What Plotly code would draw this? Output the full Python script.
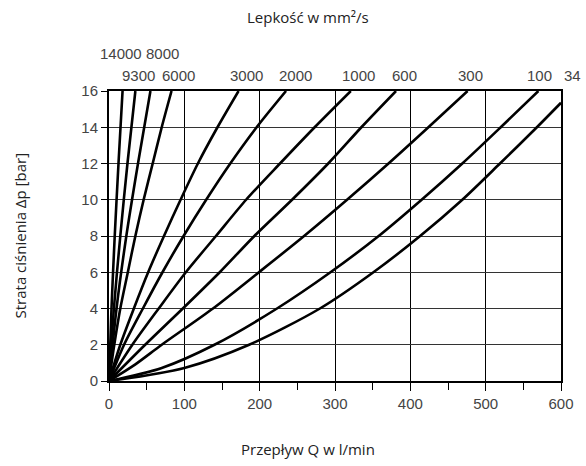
import plotly.graph_objs as go

# Viscosity of each curve in mm2/s
viscosity = ["14000", "9300", "8000", "6000", "3000", "2000", "1000", "600", "300", "100", "34"]

# Flow Q [l/min] and pressure loss dp [bar], one list pair per curve
q_14000 = [0, 3.3, 7.6, 12.6, 18]
dp_14000 = [0, 4, 8, 12, 16]
q_9300 = [0, 6.5, 15, 24.5, 35]
dp_9300 = [0, 4, 8, 12, 16]
q_8000 = [0, 10, 23, 38.5, 55]
dp_8000 = [0, 4, 8, 12, 16]
q_6000 = [0, 7, 15, 25, 35, 46, 58, 70, 83]
dp_6000 = [0, 2, 4, 6, 8, 10, 12, 14, 16]
q_3000 = [0, 15, 33, 52, 73, 95, 118, 144, 172]
dp_3000 = [0, 2, 4, 6, 8, 10, 12, 14, 16]
q_2000 = [0, 20, 45, 71, 99, 129, 161, 196, 235]
dp_2000 = [0, 2, 4, 6, 8, 10, 12, 14, 16]
q_1000 = [0, 31, 66, 102, 142, 182, 227, 273, 321]
dp_1000 = [0, 2, 4, 6, 8, 10, 12, 14, 16]
q_600 = [0, 48, 98, 147, 193, 243, 291, 335, 381]
dp_600 = [0, 2, 4, 6, 8, 10, 12, 14, 16]
q_300 = [0, 35, 70, 138, 199, 259, 316, 371, 424, 476]
dp_300 = [0, 0.92, 2, 4, 6, 8, 10, 12, 14, 16]
q_100 = [0, 70, 140, 223, 294, 358, 415, 469, 520, 570]
dp_100 = [0, 0.72, 2, 4, 6, 8, 10, 12, 14, 16]
q_34 = [0, 100, 186, 280, 351, 413, 469, 519, 568, 600]
dp_34 = [0, 0.72, 2, 4, 6, 8, 10, 12, 14, 15.35]

curves = [(q_14000, dp_14000), (q_9300, dp_9300), (q_8000, dp_8000), (q_6000, dp_6000),
          (q_3000, dp_3000), (q_2000, dp_2000), (q_1000, dp_1000), (q_600, dp_600),
          (q_300, dp_300), (q_100, dp_100), (q_34, dp_34)]

x_ticks = [0, 100, 200, 300, 400, 500, 600]
y_ticks = [0, 2, 4, 6, 8, 10, 12, 14, 16]

fig = go.Figure()
for (q, dp), name in zip(curves, viscosity):
    fig.add_trace(go.Scatter(x=q, y=dp, mode="lines", name=name,
                             line=dict(color="black", width=2.6, shape="spline", smoothing=0.8),
                             showlegend=False))

tick_font = dict(family="Liberation Sans", size=15, color="#444")
title_font = dict(family="Open Sans", size=15, color="#222")

# Viscosity labels above the plot: (x, row) in paper units
label_pos = {"14000": (0.026, 1.131), "8000": (0.118, 1.131),
             "9300": (0.065, 1.052), "6000": (0.153, 1.052), "3000": (0.304, 1.052), "2000": (0.412, 1.052),
             "1000": (0.552, 1.052), "600": (0.653, 1.052), "300": (0.80, 1.052), "100": (0.953, 1.052),
             "34": (1.026, 1.052)}
annotations = []
for name in viscosity:
    lx, ly = label_pos[name]
    annotations.append(dict(x=lx, y=ly, xref="paper", yref="paper", text=name, showarrow=False,
                            font=tick_font, xanchor="center", yanchor="middle"))

annotations.append(dict(x=0.44, y=1.255, xref="paper", yref="paper", text="Lepkość w mm²/s",
                        showarrow=False, font=title_font, xanchor="center", yanchor="middle"))
annotations.append(dict(x=0.44, y=-0.236, xref="paper", yref="paper", text="Przepływ Q w l/min",
                        showarrow=False, font=title_font, xanchor="center", yanchor="middle"))
annotations.append(dict(x=-0.198, y=0.5, xref="paper", yref="paper", text="Strata ciśnienia Δp [bar]",
                        showarrow=False, font=title_font, textangle=-90, xanchor="center", yanchor="middle"))

fig.update_layout(width=586, height=466, margin=dict(l=109, r=21, t=91, b=85),
                  plot_bgcolor="white", paper_bgcolor="white", annotations=annotations,
                  xaxis=dict(range=[0, 600], tickvals=x_ticks, showgrid=True, gridcolor="black", gridwidth=1,
                             showline=True, linecolor="black", linewidth=2, mirror=True, zeroline=False,
                             ticks="outside", ticklen=8, tickcolor="black", tickfont=tick_font,
                             minor=dict(dtick=50, ticks="outside", ticklen=7, tickcolor="black", showgrid=False)),
                  yaxis=dict(range=[0, 16], tickvals=y_ticks, showgrid=True, gridcolor="#333", gridwidth=1.3,
                             showline=True, linecolor="black", linewidth=2, mirror=True, zeroline=False,
                             ticks="outside", ticklen=6, tickcolor="black", tickfont=tick_font))

# drop the default 8px page margin so the figure fills the window exactly
fig.write_html("out.html", config={"displayModeBar": False},
               post_script="document.body.style.margin='0';")
